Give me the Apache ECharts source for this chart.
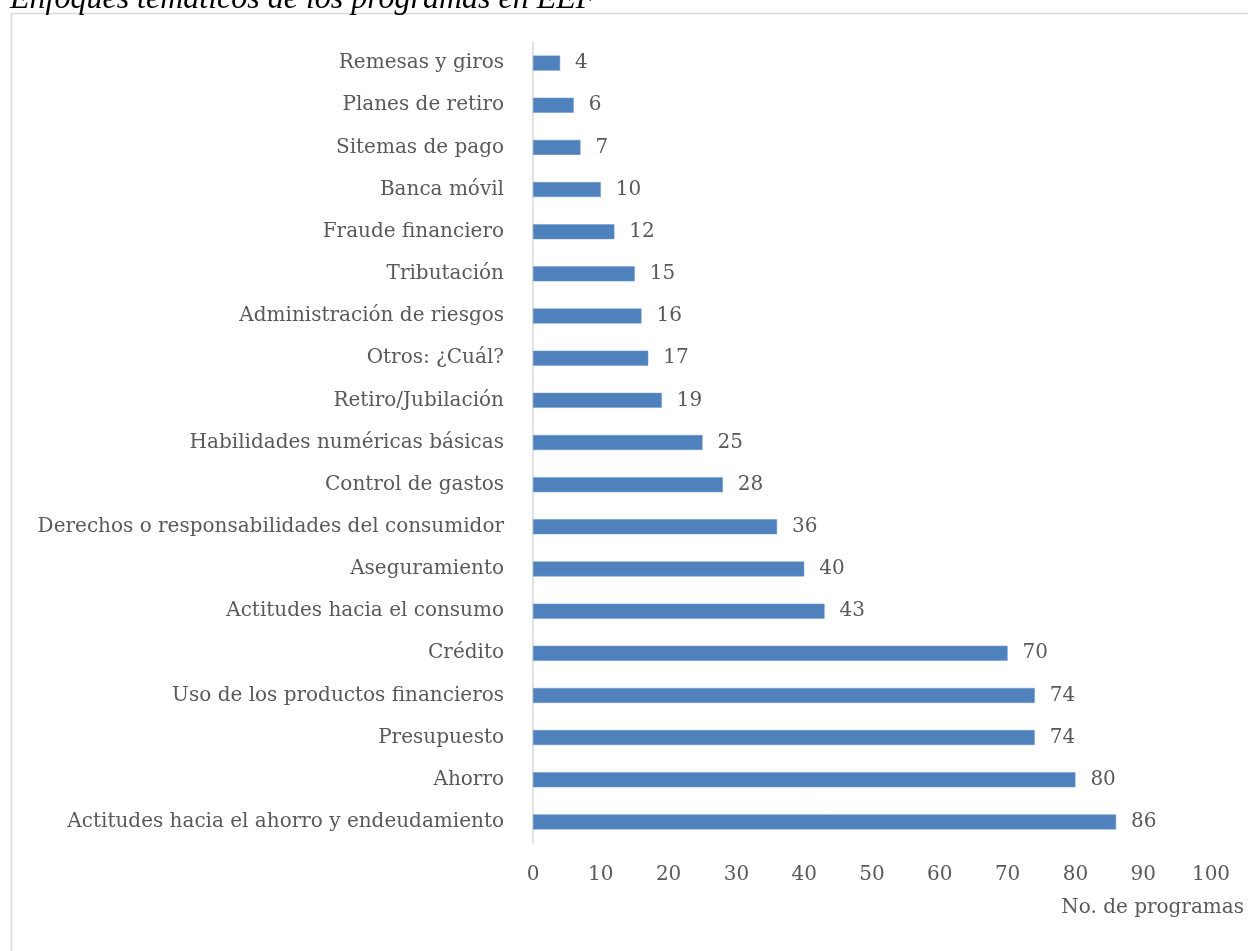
<!DOCTYPE html>
<html>
<head>
<meta charset="utf-8">
<script src="https://cdn.jsdelivr.net/npm/echarts@6/dist/echarts.min.js"></script>
<style>
  html, body { margin: 0; padding: 0; background: #fff; }
  #chart { width: 1248px; height: 951px; }
</style>
</head>
<body>
<div id="chart"></div>
<script>
// Topics, listed from the top row of the chart downwards
const temas = [
  'Remesas y giros',
  'Planes de retiro',
  'Sitemas de pago',
  'Banca móvil',
  'Fraude financiero',
  'Tributación',
  'Administración de riesgos',
  'Otros: ¿Cuál?',
  'Retiro/Jubilación',
  'Habilidades numéricas básicas',
  'Control de gastos',
  'Derechos o responsabilidades del consumidor',
  'Aseguramiento',
  'Actitudes hacia el consumo',
  'Crédito',
  'Uso de los productos financieros',
  'Presupuesto',
  'Ahorro',
  'Actitudes hacia el ahorro y endeudamiento'
];
const programas = [4, 6, 7, 10, 12, 15, 16, 17, 19, 25, 28, 36, 40, 43, 70, 74, 74, 80, 86];

const ejeMin = 0, ejeMax = 100, ejePaso = 10;
const titulo = 'Enfoques temáticos de los programas en EEF';
const nombreEje = 'No. de programas';

const fuente = 'DejaVu Serif';
const gris = '#595959';

const chart = echarts.init(document.getElementById('chart'));
chart.setOption({
  animation: false,
  backgroundColor: '#ffffff',
  graphic: [
    {
      type: 'rect',
      shape: { x: 11.5, y: 13.5, width: 1300, height: 1000 },
      style: { fill: 'none', stroke: '#d9d9d9', lineWidth: 1.5 },
      silent: true
    },
    {
      type: 'text',
      left: 10,
      top: -16,
      style: {
        text: titulo,
        font: 'italic 32px "Liberation Serif"',
        fill: '#000000'
      }
    }
  ],
  grid: { left: 533, right: 37, top: 42, bottom: 108 },
  xAxis: {
    type: 'value',
    min: ejeMin,
    max: ejeMax,
    interval: ejePaso,
    name: nombreEje,
    nameLocation: 'end',
    nameGap: 0,
    nameTextStyle: {
      fontFamily: fuente, fontSize: 20, color: gris,
      align: 'right', verticalAlign: 'top', padding: [55, -33, 0, 0]
    },
    axisLine: { show: false },
    axisTick: { show: false },
    splitLine: { show: false },
    axisLabel: { fontFamily: fuente, fontSize: 20, color: gris, margin: 22 }
  },
  yAxis: {
    type: 'category',
    data: temas,
    inverse: true,
    axisLine: { show: true, lineStyle: { color: '#d9d9d9', width: 1.5 } },
    axisTick: { show: false },
    axisLabel: { fontFamily: fuente, fontSize: 20, color: gris, margin: 29 }
  },
  series: [{
    type: 'bar',
    data: programas,
    barWidth: 15,
    itemStyle: { color: '#4f81bd', borderColor: '#6b96cc', borderWidth: 0.5 },
    label: {
      show: true,
      position: 'right',
      distance: 15,
      fontFamily: fuente,
      fontSize: 20,
      color: gris
    }
  }]
});
</script>
</body>
</html>
